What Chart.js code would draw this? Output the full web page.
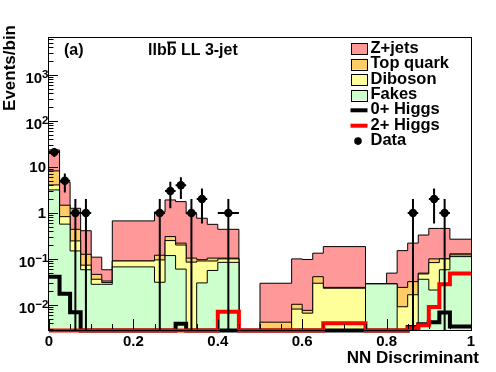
<!DOCTYPE html>
<html><head><meta charset="utf-8">
<script src="https://cdn.jsdelivr.net/npm/chart.js@4/dist/chart.umd.min.js"></script>
<style>html,body{margin:0;padding:0;background:#fff}canvas{display:block}</style>
</head><body>
<canvas id="c" width="496" height="372"></canvas>
<script>
// ---- data ----
const binEdges = [0,0.025,0.05,0.075,0.1,0.125,0.15,0.25,0.275,0.3,0.325,0.35,0.375,0.4,0.45,0.5,0.575,0.6,0.625,0.65,0.75,0.8,0.825,0.85,0.875,0.9,0.925,0.95,1.0];
const fakes    = [3.16,0.57,0.149,0.058,0.028,0.028,0.067,0.031,0.118,0.06,0,0.03,0.056,0.084,0,0,0,0,0,0,0.0286,0.0286,0,0,0.036,0.021,0.058,0.112];
const diboson  = [0.9,0.26,0.097,0.015,0.008,0.0025,0.023,0.064,0.132,0.14,0.085,0.06,0.034,0.016,0,0,0.0081,0.0066,0.0295,0.023,0,0,0.0091,0.0166,0.011,0.062,0.042,0.01];
const topQuark = [4.14,0.64,0.194,0.053,0.010,0.0025,0,0.025,0.056,0.02,0.019,0.006,0.014,0.004,0,0.0042,0.0022,0.001,0.0115,0.001,0,0,0.0149,0.0154,0.002,0.017,0,0.007];
const zJets    = [15.2,3.18,0.82,0.284,0.063,0.025,0.58,0.93,1.61,1.54,0.85,0.67,0.46,0.336,0,0.0253,0.0897,0.0894,0.092,0.161,0,0.0204,0.127,0.188,0.281,0.36,0.36,0.139];
const higgs0   = [0.041,0.0174,0.0069,0,0,0,0,0,0,0.0039,0,0,0,0,0,0,0,0,0,0,0,0,0,0.0033,0.0038,0.0042,0.0068,0.0034];
const higgs2   = [0,0,0,0,0,0,0,0,0,0,0,0,0,0.0071,0,0,0,0,0,0.0040,0,0,0,0.0031,0.0036,0.009,0.028,0.048];
const dataCounts = [21,5,1,1,0,0,0,1,3,4,1,2,0,1,0,0,0,0,0,0,0,0,0,1,0,2,1,0];

const xTickValues = [0,0.2,0.4,0.6,0.8,1];
const xTickLabels = ['0','0.2','0.4','0.6','0.8','1'];
const yTickValues = [0.01,0.1,1,10,100,1000];
const yTickBases  = ['10','10','1','10','10','10'];
const yTickExps   = ['\u22122','\u22121','','','2','3'];
const legendLabels = ['Z+jets','Top quark','Diboson','Fakes','0+ Higgs','2+ Higgs','Data'];
const Y_MIN = 0.0027, Y_MAX = 6700;

const COL_Z = '#ff9999', COL_TOP = '#ffcc66', COL_DIB = '#ffff99', COL_FAKE = '#ccffcc';
const FONT = '"Liberation Sans", Arial, Helvetica, sans-serif';

// ---- build step series ----
function stepPoints(vals, floor){
  const f = floor || Y_MIN;
  const pts = vals.map((v,i)=>({x:binEdges[i], y:Math.max(v,f)}));
  pts.push({x:binEdges[binEdges.length-1], y:Math.max(vals[vals.length-1],f)});
  return pts;
}
const cumF = fakes.slice();
const cumD = cumF.map((v,i)=>v+diboson[i]);
const cumT = cumD.map((v,i)=>v+topQuark[i]);
const cumZ = cumT.map((v,i)=>v+zJets[i]);

const dataPts = [];
dataCounts.forEach((n,i)=>{ if(n>0) dataPts.push({x:(binEdges[i]+binEdges[i+1])/2, y:n}); });

function stackDs(label, vals, color){
  return {label, data:stepPoints(vals), stepped:true, fill:'start', backgroundColor:color,
          borderColor:'#000', borderWidth:1, pointRadius:0, tension:0};
}

const rootPlugin = {
  id:'rootStyle',
  afterDatasetsDraw(chart){
    const {ctx, chartArea:a, scales:{x,y}} = chart;
    ctx.save();
    ctx.strokeStyle = '#000'; ctx.lineWidth = 2;
    dataCounts.forEach((n,i)=>{
      if(n<=0) return;
      const px = x.getPixelForValue((binEdges[i]+binEdges[i+1])/2);
      const hi = n+Math.sqrt(n), lo = n-Math.sqrt(n);
      const pyHi = y.getPixelForValue(hi);
      const pyLo = lo>Y_MIN ? y.getPixelForValue(lo) : a.bottom;
      const py = y.getPixelForValue(n);
      ctx.beginPath();
      ctx.moveTo(px, pyHi); ctx.lineTo(px, pyLo);
      ctx.moveTo(x.getPixelForValue(binEdges[i]), py); ctx.lineTo(x.getPixelForValue(binEdges[i+1]), py);
      ctx.stroke();
    });
    ctx.restore();
  },
  afterDraw(chart){
    const {ctx, chartArea:a, scales:{x,y}} = chart;
    ctx.save();
    // frame
    ctx.strokeStyle = '#000'; ctx.lineWidth = 1;
    ctx.strokeRect(Math.round(a.left)-0.5, Math.round(a.top)+0.5, Math.round(a.right-a.left)+1, Math.round(a.bottom-a.top)-1);
    // x ticks
    ctx.beginPath();
    for(let i=0;i<=20;i++){
      const v = i*0.05, px = Math.round(x.getPixelForValue(v))+0.5;
      const len = (i%4===0)?10:5;
      ctx.moveTo(px, a.bottom-2); ctx.lineTo(px, a.bottom-2-len);
    }
    // y ticks
    for(let e=-3;e<=3;e++){
      for(let m=1;m<=9;m++){
        const v = m*Math.pow(10,e);
        if(v<Y_MIN || v>Y_MAX) continue;
        const py = Math.round(y.getPixelForValue(v))+0.5;
        const len = (m===1)?9:4.5;
        ctx.moveTo(a.left, py); ctx.lineTo(a.left+len, py);
      }
    }
    ctx.stroke();
    // x labels
    ctx.fillStyle = '#000';
    ctx.font = 'bold 15px '+FONT;
    ctx.textAlign = 'center'; ctx.textBaseline = 'alphabetic';
    xTickValues.forEach((v,i)=>{ ctx.fillText(xTickLabels[i], x.getPixelForValue(v), 345.5); });
    // y labels
    yTickValues.forEach((v,i)=>{
      const py = y.getPixelForValue(v);
      const base = yTickBases[i], ex = yTickExps[i];
      if(ex){
        ctx.font = 'bold 11.5px '+FONT;
        const ew = ctx.measureText(ex).width;
        ctx.textAlign = 'left';
        ctx.fillText(ex, 48.5-ew, py+3.5);
        ctx.font = 'bold 15px '+FONT;
        ctx.textAlign = 'right';
        ctx.fillText(base, 48.5-ew, py+8.5);
      } else {
        ctx.font = 'bold 15px '+FONT;
        ctx.textAlign = 'right';
        ctx.fillText(base, 46, py+5.5);
      }
    });
    // axis titles
    ctx.font = 'bold 17px '+FONT;
    ctx.textAlign = 'right';
    ctx.fillText('NN Discriminant', 479, 362.5);
    ctx.save();
    ctx.translate(15, 25); ctx.rotate(-Math.PI/2);
    ctx.textAlign = 'right';
    ctx.fillText('Events/bin', 0, 0);
    ctx.restore();
    // top labels
    ctx.font = 'bold 16px '+FONT;
    ctx.textAlign = 'left';
    ctx.fillText('(a)', 64, 55);
    const t0 = 148;
    ctx.fillText('llbb LL 3-jet', t0, 55);
    const w1 = ctx.measureText('llb').width, w2 = ctx.measureText('b').width;
    ctx.fillRect(t0+w1+0.5, 41.5, w2-1, 2);
    // legend
    const rowY = i => 48.7 + 15.4*i;
    const bx = 351, bw = 16, bh = 10.6;
    const fills = [COL_Z, COL_TOP, COL_DIB, COL_FAKE];
    legendLabels.forEach((lab,i)=>{
      const cy = rowY(i);
      if(i<4){
        ctx.fillStyle = fills[i];
        ctx.fillRect(bx, cy-bh/2, bw, bh);
        ctx.strokeStyle = '#000'; ctx.lineWidth = 1;
        ctx.strokeRect(bx+0.5, Math.round(cy-bh/2)+0.5, bw, Math.round(bh));
      } else if(i<6){
        ctx.strokeStyle = i===4 ? '#000' : '#ff0000'; ctx.lineWidth = 4;
        ctx.beginPath(); ctx.moveTo(bx-0.5, cy); ctx.lineTo(bx+bw+0.5, cy); ctx.stroke();
      } else {
        ctx.fillStyle = '#000';
        ctx.beginPath(); ctx.arc(358, cy, 3.8, 0, Math.PI*2); ctx.fill();
      }
      ctx.fillStyle = '#000';
      ctx.font = 'bold 16.5px '+FONT;
      ctx.textAlign = 'left';
      ctx.fillText(lab, 370.5, cy+4);
    });
    ctx.restore();
  }
};

const H_FLOOR = Y_MIN*1.03;

new Chart(document.getElementById('c'), {
  type:'line',
  data:{datasets:[
    {label:'Data', data:dataPts, showLine:false, pointRadius:4.2, pointHoverRadius:4.2, pointStyle:'circle',
     pointBackgroundColor:'#000', pointBorderColor:'#000', pointBorderWidth:0, borderColor:'#000', backgroundColor:'#000', clip:false},
    {label:'2+ Higgs', data:stepPoints(higgs2, H_FLOOR), stepped:true, fill:false, borderColor:'#ff0000', borderWidth:4, pointRadius:0, clip:false},
    {label:'0+ Higgs', data:stepPoints(higgs0, H_FLOOR), stepped:true, fill:false, borderColor:'#000000', borderWidth:4, pointRadius:0, clip:false},
    stackDs('Fakes', cumF, COL_FAKE),
    stackDs('Diboson', cumD, COL_DIB),
    stackDs('Top quark', cumT, COL_TOP),
    stackDs('Z+jets', cumZ, COL_Z)
  ]},
  options:{
    responsive:false, animation:false, devicePixelRatio:1,
    layout:{padding:{left:49,right:25,top:37,bottom:41}},
    scales:{
      x:{type:'linear', min:0, max:1, display:false},
      y:{type:'logarithmic', min:Y_MIN, max:Y_MAX, display:false}
    },
    plugins:{legend:{display:false}, tooltip:{enabled:false}},
    elements:{line:{tension:0}}
  },
  plugins:[rootPlugin]
});
</script>
</body></html>
